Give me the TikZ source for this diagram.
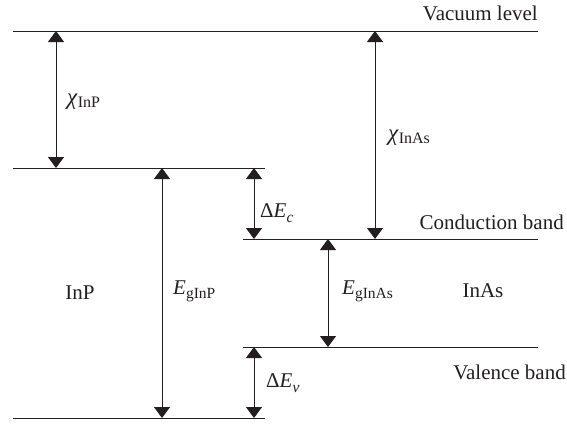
\documentclass[tikz,border=0pt]{standalone}
\usepackage{fontspec}
\setmainfont{Liberation Serif}
\usetikzlibrary{arrows.meta}
\definecolor{ink}{HTML}{231F20}
% subscripted symbols
\newcommand{\subtxt}[1]{\raisebox{-0.45ex}{\fontsize{15.5}{16}\selectfont #1}}
\newcommand{\chisub}[1]{{\fontsize{23}{24}\selectfont\textit{χ}}\raisebox{-0.25ex}{\fontsize{16}{16}\selectfont #1}}
\begin{document}
\begin{tikzpicture}[x=1pt,y=-1pt,
  level/.style={draw=ink,line width=1pt},
  gap/.style={draw=ink,line width=1pt,{Triangle[width=16pt,length=11pt]}-{Triangle[width=16pt,length=11pt]}},
  lbl/.style={inner sep=0pt,text=ink,font=\fontsize{21}{24}\selectfont}]
\useasboundingbox (0,0) rectangle (567,426);

% band edges
\coordinate (vacL) at (13,31);   \coordinate (vacR) at (538,31);
\coordinate (cbPL) at (13,168);  \coordinate (cbPR) at (265,168);
\coordinate (cbAL) at (243,239); \coordinate (cbAR) at (538,239);
\coordinate (vbAL) at (243,347); \coordinate (vbAR) at (538,347);
\coordinate (vbPL) at (13,418);  \coordinate (vbPR) at (265,418);
\draw[level] (vacL) -- (vacR);
\draw[level] (cbPL) -- (cbPR);
\draw[level] (cbAL) -- (cbAR);
\draw[level] (vbAL) -- (vbAR);
\draw[level] (vbPL) -- (vbPR);

% arrow ends
\coordinate (chiPt) at (56,31);   \coordinate (chiPb) at (56,168);
\coordinate (chiAt) at (375,31);  \coordinate (chiAb) at (375,239);
\coordinate (egPt)  at (162,168); \coordinate (egPb)  at (162,418);
\coordinate (dEct)  at (254,168); \coordinate (dEcb)  at (254,239);
\coordinate (egAt)  at (328,239); \coordinate (egAb)  at (328,347);
\coordinate (dEvt)  at (254,347); \coordinate (dEvb)  at (254,418);
\draw[gap] (chiPt) -- (chiPb);
\draw[gap] (chiAt) -- (chiAb);
\draw[gap] (egPt) -- (egPb);
\draw[gap] (dEct) -- (dEcb);
\draw[gap] (egAt) -- (egAb);
\draw[gap] (dEvt) -- (dEvb);

% labels
\node[lbl,anchor=east] (vac) at (538,13) {Vacuum level};
\node[lbl,anchor=east] (cb) at (564,222) {Conduction band};
\node[lbl,anchor=east] (vb) at (566,372) {Valence band};
\node[lbl] (inp) at (80,293) {InP};
\node[lbl] (inas) at (483,291) {InAs};
\node[lbl,anchor=west] (chiP) at (67,102) {\chisub{InP}};
\node[lbl,anchor=west] (chiA) at (388,138) {\chisub{InAs}};
\node[lbl,anchor=west] (dEc) at (260,213) {Δ\textit{E}\subtxt{\textit{c}}};
\node[lbl,anchor=west] (dEv) at (266,383) {Δ\textit{E}\subtxt{\textit{v}}};
\node[lbl,anchor=west] (egP) at (173,291) {\textit{E}\subtxt{gInP}};
\node[lbl,anchor=west] (egA) at (342,291) {\textit{E}\subtxt{gInAs}};
\end{tikzpicture}
\end{document}
